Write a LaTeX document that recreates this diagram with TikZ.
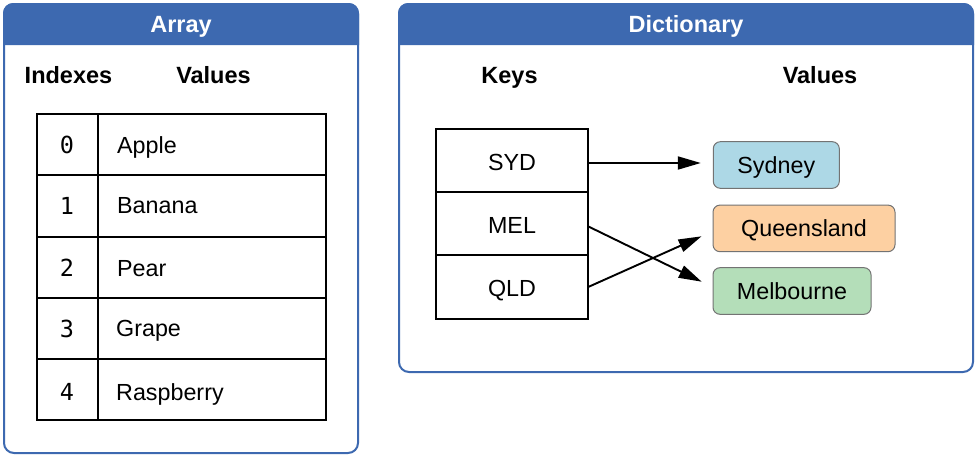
\documentclass[tikz,border=0pt]{standalone}
\usepackage{fontspec}
\setmainfont{Liberation Sans}
\setmonofont{DejaVu Sans Mono}
\usetikzlibrary{arrows.meta}
\definecolor{panelblue}{RGB}{61,105,176}
\definecolor{sydcol}{RGB}{173,216,230}
\definecolor{qldcol}{RGB}{253,208,162}
\definecolor{melcol}{RGB}{180,222,185}
\definecolor{boxgray}{RGB}{115,115,115}
\tikzset{
  paneltitle/.style={text=white, font=\fontsize{23.5}{27}\selectfont\bfseries, anchor=base, inner sep=0pt},
  colhead/.style={font=\fontsize{23.5}{27}\selectfont\bfseries, anchor=base, inner sep=0pt},
  celltext/.style={font=\fontsize{23.3}{27}\selectfont, anchor=base west, inner sep=0pt},
  idxtext/.style={font=\fontsize{23.5}{27}\ttfamily, anchor=base, inner sep=0pt},
  keycell/.style={draw=black, line width=2pt, minimum width=151.7pt, inner sep=0pt,
    font=\fontsize{23.3}{27}\selectfont, text height=21pt, text depth=0pt},
  valbox/.style={draw=boxgray, line width=1pt, rounded corners=7pt, inner sep=0pt,
    minimum height=46.6pt, font=\fontsize{23.3}{27}\selectfont, text height=16.5pt, text depth=0pt},
  tablelines/.style={draw=black, line width=2pt},
  maparrow/.style={line width=1.9pt, -{Triangle[length=23pt,width=13pt]}, shorten >=12pt},
}
\begin{document}
\begin{tikzpicture}[x=1pt,y=-1pt]
\useasboundingbox (0,0) rectangle (978,458);
% ---- Array panel
\draw[panelblue, line width=2pt, rounded corners=10pt, fill=white] (4,4) rectangle (358,453);
\fill[panelblue] (3,45) {[rounded corners=10pt] -- (3,3) -- (359,3)} -- (359,45) -- cycle;
\node[paneltitle] (arrtitle) at (181,32.3) {Array};
\node[colhead] (idxhead) at (68.5,83.3) {Indexes};
\node[colhead] (valhead) at (213.5,83.3) {Values};
\path[tablelines] (37,114) rectangle (326,420);
\path[tablelines] (98,114) -- (98,420);
\path[tablelines] (37,175) -- (326,175) (37,237) -- (326,237) (37,298) -- (326,298) (37,359) -- (326,359);
\node[idxtext] (i0) at (67,153.3) {0};
\node[idxtext] (i1) at (67,214) {1};
\node[idxtext] (i2) at (67,276.5) {2};
\node[idxtext] (i3) at (67,337) {3};
\node[idxtext] (i4) at (67,400) {4};
\node[celltext] (a0) at (117,153.3) {Apple};
\node[celltext] (a1) at (117,213.3) {Banana};
\node[celltext] (a2) at (117,276.7) {Pear};
\node[celltext] (a3) at (116,336.7) {Grape};
\node[celltext] (a4) at (116,400.5) {Raspberry};
% ---- Dictionary panel
\draw[panelblue, line width=2pt, rounded corners=10pt, fill=white] (399,4) rectangle (973,372);
\fill[panelblue] (398,45) {[rounded corners=10pt] -- (398,3) -- (974,3)} -- (974,45) -- cycle;
\node[paneltitle] (dicttitle) at (686,32.3) {Dictionary};
\node[colhead] (keyhead) at (509.5,83.3) {Keys};
\node[colhead] (dvalhead) at (820,83.3) {Values};
\node[keycell, minimum height=62.7pt] (k1) at (512,160.3) {SYD};
\node[keycell, minimum height=63.3pt] (k2) at (512,223.3) {MEL};
\node[keycell, minimum height=64pt, text height=19pt] (k3) at (512,287) {QLD};
\node[valbox, fill=sydcol, minimum width=126pt] (v1) at (776.3,165) {Sydney};
\node[valbox, fill=qldcol, minimum width=182pt] (v2) at (804,228.4) {Queensland};
\node[valbox, fill=melcol, minimum width=158pt] (v3) at (792,291) {Melbourne};
\draw[maparrow] (k1.east |- 0,163) -- (v1.west |- 0,163);
\draw[maparrow] (k2.east |- 0,226.7) -- ([yshift=4pt]v3.west);
\draw[maparrow] (k3.east |- 0,286.7) -- ([yshift=-3pt]v2.west);
\end{tikzpicture}
\end{document}
